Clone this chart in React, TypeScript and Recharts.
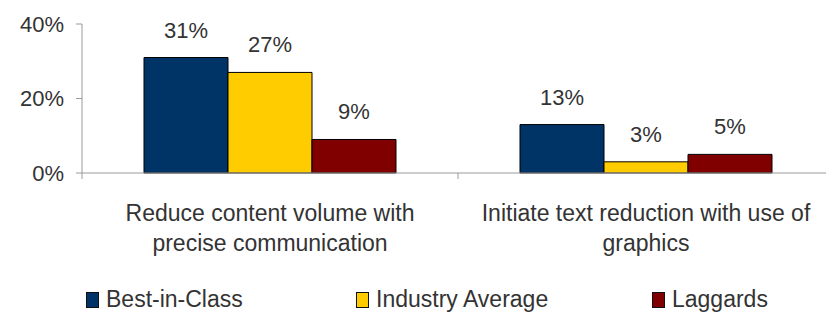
import React from 'react';
import { BarChart, Bar, XAxis, YAxis, Legend, LabelList } from 'recharts';

// Chart data
const categoryLines: string[][] = [
    ['Reduce content volume with', 'precise communication'],
    ['Initiate text reduction with use of', 'graphics'],
];
const seriesNames = ['Best-in-Class', 'Industry Average', 'Laggards'];
const bestInClass = [31, 13];
const industryAverage = [27, 3];
const laggards = [9, 5];
const yTicks = [0, 20, 40];

const seriesColors = ['#003366', '#FFCC00', '#800000'];
const seriesKeys = ['best', 'industry', 'laggards'];

const data = categoryLines.map((lines, i) => ({
    category: lines.join(' '),
    best: bestInClass[i],
    industry: industryAverage[i],
    laggards: laggards[i],
}));

const font = '"Liberation Sans", Arial, sans-serif';
const textColor = '#333333';
const axisColor = '#9a9a9a';
const halfBand = 188;

function CategoryTick(props: any) {
    const { x, y, payload } = props;
    const lines = categoryLines[payload.index] || [payload.value];
    return (
        <g>
            <line x1={x - halfBand} x2={x - halfBand} y1={y} y2={y + 6} stroke={axisColor} />
            {lines.map((line, i) => (
                <text
                    key={i}
                    x={x}
                    y={y + 48 + i * 30}
                    textAnchor="middle"
                    fill={textColor}
                    fontSize={23}
                    fontFamily={font}
                >
                    {line}
                </text>
            ))}
        </g>
    );
}

// legend item offsets from the left edge
const legendLeft = [86, 356, 652];

function LegendContent() {
    return (
        <div style={{ position: 'relative', height: 40, fontFamily: font, fontSize: 23, color: textColor }}>
            {seriesNames.map((name, i) => (
                <div
                    key={name}
                    style={{
                        position: 'absolute',
                        left: legendLeft[i],
                        top: 6,
                        display: 'flex',
                        alignItems: 'center',
                        whiteSpace: 'nowrap',
                    }}
                >
                    <span
                        style={{
                            display: 'inline-block',
                            width: 11,
                            height: 14,
                            background: seriesColors[i],
                            border: '1px solid #111',
                            marginRight: 7,
                        }}
                    />
                    {name}
                </div>
            ))}
        </div>
    );
}

export default function App() {
    return (
        <div
            style={{
                position: 'absolute',
                left: 0,
                top: 0,
                width: 826,
                height: 320,
                overflow: 'hidden',
                background: '#fff',
            }}
        >
            <BarChart
                width={850}
                height={320}
                data={data}
                margin={{ top: 24, right: 16, left: 0, bottom: 0 }}
                barCategoryGap={62}
                barGap={0}
            >
                <XAxis
                    dataKey="category"
                    height={107}
                    stroke={axisColor}
                    tickLine={false}
                    tickSize={0}
                    tickMargin={0}
                    tick={<CategoryTick />}
                    interval={0}
                />
                <YAxis
                    width={82}
                    domain={[0, 40]}
                    ticks={yTicks}
                    stroke={axisColor}
                    tickSize={6}
                    tickMargin={12}
                    tickFormatter={(v) => `${v}%`}
                    tick={{ fill: textColor, fontSize: 22, fontFamily: font }}
                />
                <Legend
                    verticalAlign="bottom"
                    height={40}
                    content={<LegendContent />}
                    wrapperStyle={{ left: 0, bottom: 0, width: 826 }}
                />
                {seriesKeys.map((key, i) => (
                    <Bar
                        key={key}
                        dataKey={key}
                        name={seriesNames[i]}
                        fill={seriesColors[i]}
                        stroke="#000"
                        strokeWidth={1}
                        isAnimationActive={false}
                    >
                        <LabelList
                            dataKey={key}
                            position="top"
                            offset={20}
                            fill={textColor}
                            fontSize={22}
                            fontFamily={font}
                            formatter={(v: any) => `${v}%`}
                        />
                    </Bar>
                ))}
            </BarChart>
        </div>
    );
}
